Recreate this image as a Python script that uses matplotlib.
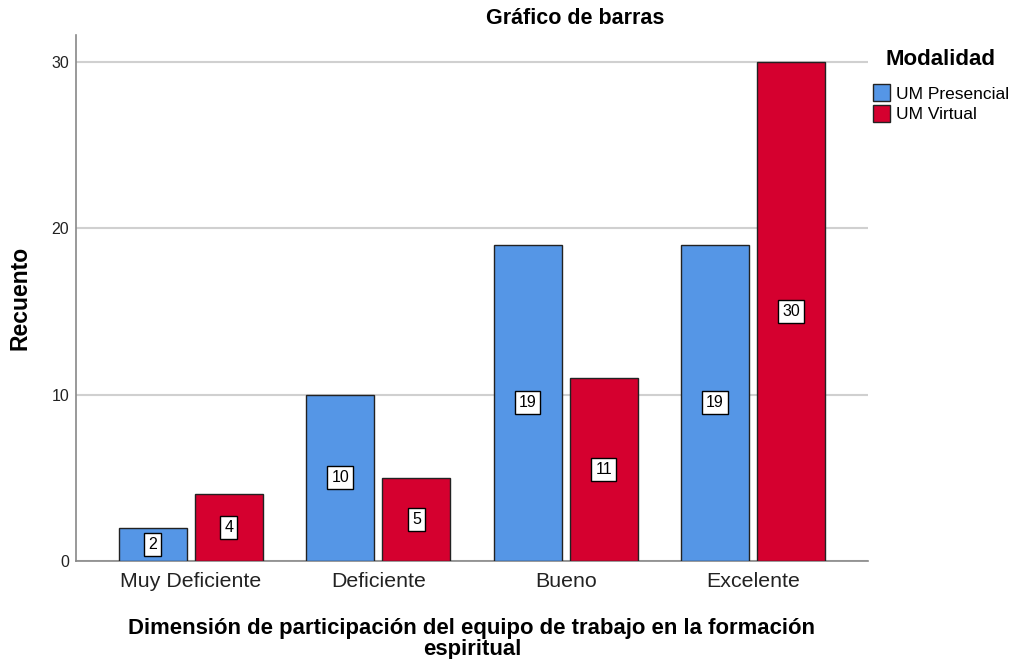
import matplotlib.pyplot as plt
import numpy as np

plt.rcParams["font.family"] = ["Liberation Sans", "DejaVu Sans"]

categorias = ['Muy Deficiente', 'Deficiente', 'Bueno', 'Excelente']
presencial = [2, 10, 19, 19]
virtual = [4, 5, 11, 30]
series = ['UM Presencial', 'UM Virtual']
colores = ['#5596E6', '#D5002F']

fig = plt.figure(figsize=(10.15, 6.59), dpi=100)
ax = fig.add_axes([0.0749, 0.1487, 0.7802, 0.7982])

x = np.arange(len(categorias))
w = 0.363
off = 0.203
for vals, dx, col, lab in zip([presencial, virtual], [-off, off], colores, series):
    bars = ax.bar(x + dx, vals, width=w, color=col, edgecolor='#222222', linewidth=1.0, label=lab, zorder=3)
    for b, v in zip(bars, vals):
        ax.text(b.get_x() + b.get_width() / 2, v / 2, str(v), ha='center', va='center', fontsize=11.5,
                zorder=4, bbox=dict(boxstyle='square,pad=0.25', facecolor='white', edgecolor='black', linewidth=1))

ax.set_xlim(-0.613, 3.613)
ax.set_ylim(0, 31.6)
ax.set_yticks([0, 10, 20, 30])
ax.set_xticks(x)
ax.set_xticklabels(categorias, fontsize=15.4, color='#222222')
ax.tick_params(axis='y', labelsize=11.5, length=0, pad=5, colors='#222222')
ax.tick_params(axis='x', length=0, pad=8)
ax.grid(axis='y', color='#D0D0D0', linewidth=1.5, zorder=0)
for s in ['top', 'right']:
    ax.spines[s].set_visible(False)
for s in ['left', 'bottom']:
    ax.spines[s].set_color('#888888')
    ax.spines[s].set_linewidth(1.2)

fig.text(575 / 1015, 1 - 18 / 659, 'Gráfico de barras', ha='center', va='center', fontsize=15.5, fontweight='bold')
fig.text(20 / 1015, 1 - 298 / 659, 'Recuento', ha='center', va='center', rotation=90, fontsize=16.5, fontweight='bold')
fig.text(472 / 1015, 1 - 639 / 659, 'Dimensión de participación del equipo de trabajo en la formación\nespiritual',
         ha='center', va='center', fontsize=15.9, fontweight='bold', linespacing=0.97)

leg = ax.legend(loc='upper left', bbox_to_anchor=(0.991, 0.997), frameon=False, fontsize=12.5,
                title='Modalidad', title_fontproperties={'weight': 'bold', 'size': 16},
                handlelength=1.0, handleheight=1.1, handletextpad=0.3, labelspacing=0.2, borderaxespad=0.3)
leg._legend_box.sep = 10.5

fig.savefig('out.png', dpi=100)
